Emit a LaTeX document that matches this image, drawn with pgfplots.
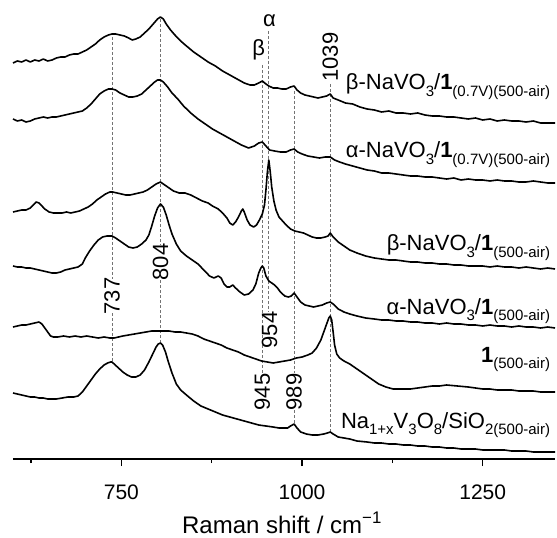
\documentclass[border=0pt]{standalone}
\usepackage{fontspec}
\setmainfont{Liberation Sans}
\usepackage{pgfplots}
\pgfplotsset{compat=1.18}

\newcommand\lblfont{\fontsize{22}{26}\selectfont}
\newcommand\tickfont{\fontsize{21}{25}\selectfont}
\newcommand\axfont{\fontsize{24}{28}\selectfont}
\newcommand\sub[1]{\raisebox{-0.3em}{\fontsize{15}{18}\selectfont #1}}

\begin{document}
\begin{tikzpicture}
\begin{axis}[
  width=542pt, height=459pt, scale only axis,
  xmin=600, xmax=1350, ymin=0, ymax=459,
  axis x line=bottom, axis y line=none,
  axis line style={line width=1.4pt,-},
  xtick={750,1000,1250}, minor xtick={625,875,1125},
  tick align=outside, major tick length=7pt, minor tick length=4pt,
  every tick/.style={line width=1.4pt, black},
  /pgf/number format/assume math mode=true,
  /pgf/number format/1000 sep={},
  xticklabel style={font=\tickfont, anchor=base, yshift=-33pt},
  xlabel={Raman shift / cm\textsuperscript{−1}},
  xlabel style={font=\axfont, at={(axis description cs:0.5,0)}, anchor=base, yshift=-74pt, xshift=-2pt},
  clip=false,
  trace/.style={black, line width=1.6pt, line join=round},
  refl/.style={black!55, line width=0.7pt, dash pattern=on 3pt off 2pt},
]
\coordinate (BL) at (rel axis cs:0,0);
\coordinate (TR) at (rel axis cs:1,1);

% band positions
\addplot[refl] coordinates {(737,422) (737,180)};
\addplot[refl] coordinates {(737,146) (737,97)};
\addplot[refl] coordinates {(804,440) (804,214)};
\addplot[refl] coordinates {(804,179) (804,116)};
\addplot[refl] coordinates {(945,394) (945,86)};
\addplot[refl] coordinates {(954,428) (954,147)};
\addplot[refl] coordinates {(989,368) (989,86)};
\addplot[refl] coordinates {(989,49) (989,35)};
\addplot[refl] coordinates {(1039,375) (1039,27)};

% beta-NaVO3/1 (0.7V)(500-air)
\addplot[trace] table {
600 396
606 398
612 397
618 399
624 397
630 399
636 398
642 400
648 398
654 399
660 401
666 402
672 402
678 404
684 405
690 405
696 407
702 409
708 412
714 415
720 419
726 422
732 424
737 425
742 425
748 424
754 423
760 421
765 419
770 420
776 422
782 426
788 430
794 435
800 440
804 442
808 440
812 435
818 429
824 424
832 418
840 413
850 407
860 402
870 397
880 393
890 388
900 384
910 380
920 376
928 374
934 374
940 376
945 378
950 375
954 373
960 371
966 371
972 370
978 370
984 372
989 373
993 369
998 366
1004 364
1010 363
1016 362
1022 361
1028 362
1034 363
1039 365
1043 361
1050 359
1060 356
1070 355
1080 352
1090 350
1100 349
1110 347
1120 348
1130 346
1140 346
1150 345
1160 346
1170 344
1180 343
1190 343
1200 342
1210 342
1220 341
1230 340
1240 341
1250 339
1260 340
1270 338
1280 339
1290 338
1300 338
1310 337
1320 338
1330 336
1340 336
1350 336
};

% alpha-NaVO3/1 (0.7V)(500-air)
\addplot[trace] table {
600 340
606 338
612 339
618 337
624 338
630 340
636 341
642 342
648 341
654 342
660 342
666 343
672 344
678 345
684 346
690 347
696 348
702 351
708 355
714 360
720 365
726 368
732 370
737 370
742 369
748 366
754 364
760 362
766 362
772 363
778 365
784 369
790 373
796 377
800 379
804 379
808 377
814 372
820 366
828 360
836 353
846 346
856 340
866 335
876 330
886 326
896 322
906 318
916 314
926 311
934 313
940 316
945 317
950 313
955 309
962 308
970 307
978 307
984 309
989 310
994 307
1000 305
1008 303
1016 302
1024 301
1032 302
1039 302
1045 299
1052 297
1060 295
1070 293
1080 291
1090 289
1100 288
1110 286
1120 286
1130 285
1140 284
1150 283
1160 283
1170 282
1180 282
1190 281
1200 280
1210 281
1220 279
1230 280
1240 279
1250 279
1260 278
1270 279
1280 278
1290 278
1300 277
1310 277
1320 278
1330 277
1340 276
1350 276
};

% beta-NaVO3/1 (500-air)
\addplot[trace] table {
600 247
606 248
612 249
618 249
624 251
628 254
632 257
636 256
640 253
644 250
650 247
656 246
662 246
668 246
674 247
680 246
686 247
692 248
698 250
704 252
710 255
716 259
722 262
728 265
734 267
738 267
744 266
750 265
756 264
762 264
768 265
774 266
780 267
786 269
792 272
798 275
804 277
810 274
816 271
822 268
830 266
838 266
846 264
854 261
862 258
870 256
876 253
884 250
890 246
896 241
900 236
904 234
908 237
912 242
916 248
918 250
920 247
924 239
928 234
933 232
937 234
941 239
945 245
948 254
950 269
952 287
954 299
956 287
958 272
961 258
964 249
968 242
973 238
978 234
984 230
990 228
996 227
1002 226
1008 224
1014 222
1020 221
1026 221
1032 222
1036 223
1039 226
1043 222
1050 217
1058 213
1066 209
1076 206
1088 203
1100 201
1110 200
1120 199
1130 199
1140 198
1150 197
1160 197
1170 196
1180 196
1190 195
1200 195
1210 194
1220 194
1230 193
1240 193
1250 193
1260 192
1270 193
1280 192
1290 192
1300 191
1310 192
1320 191
1330 190
1340 191
1350 190
};

% alpha-NaVO3/1 (500-air)
\addplot[trace] table {
600 193
606 192
612 192
618 191
624 191
630 190
636 189
642 188
648 187
654 186
660 186
666 187
672 189
678 190
684 191
690 192
696 195
700 201
706 208
712 214
718 219
724 222
730 223
737 223
742 221
748 218
754 215
760 212
766 211
772 212
778 215
784 219
788 224
792 233
796 243
800 251
804 255
808 252
812 244
816 234
820 225
826 215
832 208
840 203
848 199
856 195
864 189
872 183
878 181
884 183
888 181
892 175
896 172
900 172
904 174
908 171
914 167
920 164
926 165
932 169
936 175
940 186
943 191
945 193
947 191
950 183
954 178
958 176
962 174
966 171
970 167
976 163
981 162
985 163
989 166
993 162
998 157
1004 154
1010 153
1016 152
1022 153
1028 154
1034 156
1039 157
1043 155
1050 150
1058 147
1066 145
1076 143
1088 141
1100 140
1110 139
1120 139
1130 138
1140 138
1150 137
1160 137
1170 136
1180 136
1190 135
1200 136
1210 135
1220 135
1230 134
1240 134
1250 133
1260 134
1270 133
1280 133
1290 132
1300 133
1310 132
1320 132
1330 131
1340 132
1350 131
};

% 1 (500-air)
\addplot[trace] table {
600 132
606 133
612 134
618 134
624 135
630 136
636 137
640 135
644 131
648 127
652 123
656 122
662 122
670 123
678 122
686 123
694 122
702 123
710 122
718 121
726 122
734 121
740 121
746 122
752 123
760 124
768 125
776 126
784 127
792 128
800 128
808 128
816 128
824 127
832 127
840 126
848 125
856 123
864 120
872 118
880 116
888 114
896 111
904 109
912 107
920 104
928 102
936 100
944 98
952 97
960 96
968 97
976 98
984 99
992 101
1000 102
1008 104
1014 106
1020 111
1026 119
1030 127
1034 135
1037 141
1039 143
1041 139
1043 127
1045 114
1048 105
1052 101
1058 98
1066 95
1076 90
1086 85
1096 80
1106 75
1116 72
1126 70
1140 70
1150 70
1160 71
1170 72
1180 73
1190 73
1200 74
1215 73
1230 72
1240 71
1250 70
1260 70
1270 69
1280 69
1290 69
1300 68
1310 68
1320 68
1330 67
1340 67
1350 67
};

% Na1+xV3O8/SiO2 (500-air)
\addplot[trace] table {
600 66
606 65
612 64
618 63
624 62
630 62
636 61
642 61
648 60
654 60
660 60
668 61
676 62
684 62
690 63
696 67
702 73
708 79
714 85
720 90
726 94
731 96
735 97
737 97
740 95
746 91
752 87
758 84
764 82
770 82
776 84
782 89
788 97
794 106
798 112
801 115
804 116
807 114
811 107
815 97
820 86
826 75
832 69
840 64
850 58
860 53
870 50
880 47
890 44
900 42
910 40
920 38
930 36
940 34
950 33
960 32
968 31
974 31
980 31
984 33
989 35
993 31
998 27
1006 25
1014 24
1022 24
1030 25
1035 26
1039 27
1043 25
1050 22
1058 21
1066 20
1076 18
1090 17
1100 16
1110 16
1120 15
1130 15
1140 14
1150 14
1160 13
1170 13
1180 12
1190 12
1200 11
1210 11
1220 10
1230 10
1240 10
1250 9
1260 9
1270 9
1280 9
1290 8
1300 8
1310 8
1320 7
1330 7
1340 7
1350 7
};

% sample names
\node[font=\lblfont, anchor=base east] at (axis cs:1348,369) {β-NaVO\sub{3}/\textbf{1}\sub{(0.7V)(500-air)}};
\node[font=\lblfont, anchor=base east] at (axis cs:1348,301) {α-NaVO\sub{3}/\textbf{1}\sub{(0.7V)(500-air)}};
\node[font=\lblfont, anchor=base east] at (axis cs:1348,208) {β-NaVO\sub{3}/\textbf{1}\sub{(500-air)}};
\node[font=\lblfont, anchor=base east] at (axis cs:1348,145) {α-NaVO\sub{3}/\textbf{1}\sub{(500-air)}};
\node[font=\lblfont, anchor=base east] at (axis cs:1348,97) {\textbf{1}\sub{(500-air)}};
\node[font=\lblfont, anchor=base east] at (axis cs:1348,31) {Na\sub{1+x}V\sub{3}O\sub{8}/SiO\sub{2(500-air)}};

% band labels
\node[font=\lblfont, rotate=90] at (axis cs:737,163) {737};
\node[font=\lblfont, rotate=90] at (axis cs:804,197) {804};
\node[font=\lblfont, rotate=90] at (axis cs:945,67) {945};
\node[font=\lblfont, rotate=90] at (axis cs:955,129) {954};
\node[font=\lblfont, rotate=90] at (axis cs:989,67) {989};
\node[font=\lblfont, rotate=90] at (axis cs:1039,402) {1039};
\node[font=\lblfont] at (axis cs:940,409) {β};
\node[font=\lblfont] at (axis cs:955,438) {α};
\end{axis}
\pgfresetboundingbox
\path[use as bounding box] ([xshift=-13pt,yshift=-78pt]BL) rectangle ([xshift=2pt]TR);
\end{tikzpicture}
\end{document}
